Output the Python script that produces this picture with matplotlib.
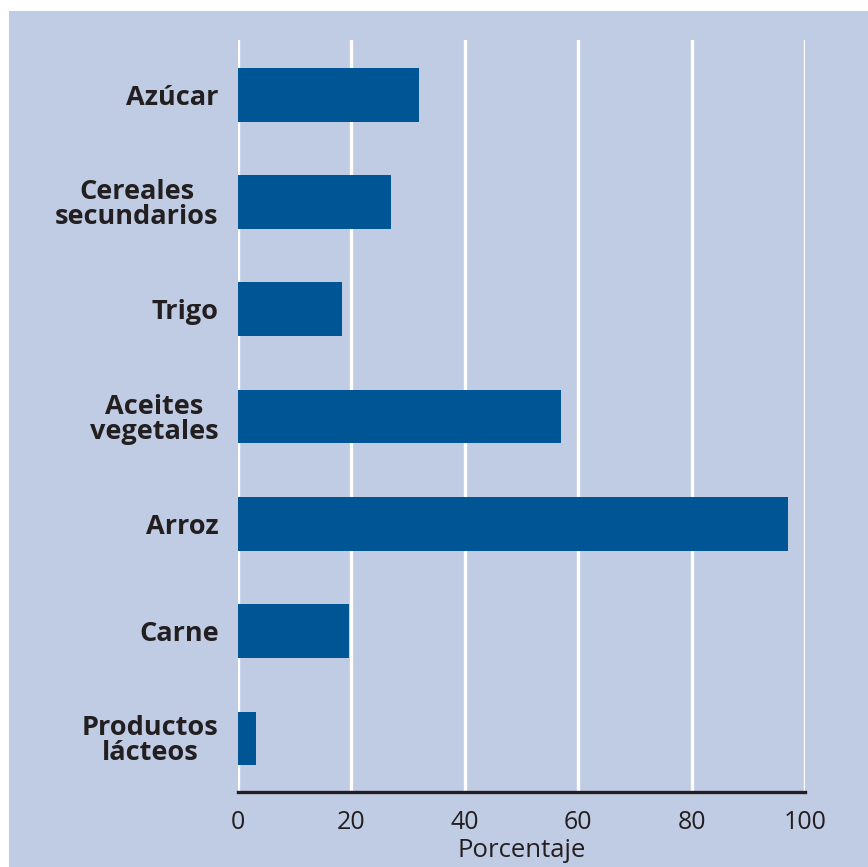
import matplotlib.pyplot as plt
from matplotlib.patches import Rectangle

# Share of each commodity (percent)
categories = ["Azúcar", "Cereales\nsecundarios", "Trigo", "Aceites\nvegetales",
              "Arroz", "Carne", "Productos\nlácteos"]
values = [32, 27, 18.3, 57, 97, 19.5, 3.1]
xticks = [0, 20, 40, 60, 80, 100]

bg = "#c0cce4"
bar_color = "#005594"
text_color = "#231f20"

plt.rcParams['font.family'] = ['Open Sans', 'DejaVu Sans']

fig = plt.figure(figsize=(8.68, 8.67), dpi=100, facecolor="white")
# shaded panel behind the chart
fig.patches.append(Rectangle((9 / 868, 0), 1, (867 - 11) / 867, transform=fig.transFigure,
                             facecolor=bg, edgecolor="none", zorder=-10))

ax = fig.add_axes([238 / 868, 1 - 792 / 867, (805 - 238) / 868, (792 - 40) / 867])
ax.patch.set_alpha(0)

pos = list(range(len(categories)))
ax.barh(pos, values, height=0.5, color=bar_color, zorder=3)

ax.set_xlim(0, 100)
ax.set_ylim(len(categories) - 0.5, -0.51)

for x in xticks:
    ax.axvline(x, color="white", lw=2.4, zorder=1)

for side in ["top", "right", "left"]:
    ax.spines[side].set_visible(False)
ax.spines["bottom"].set_color(text_color)
ax.spines["bottom"].set_linewidth(2.4)
ax.spines["bottom"].set_zorder(4)

ax.set_xticks(xticks)
ax.set_xticklabels([str(x) for x in xticks], fontsize=18, color=text_color)
ax.tick_params(axis="x", length=0, pad=13)
ax.tick_params(axis="y", length=0, pad=14)
ax.set_yticks(pos)
ax.set_yticklabels(categories, fontsize=19.5, fontweight="bold", color=text_color,
                   multialignment="center", linespacing=0.95)
ax.set_xlabel("Porcentaje", fontsize=18.5, color=text_color, labelpad=2)

fig.savefig("out.png", dpi=100, facecolor="white")
